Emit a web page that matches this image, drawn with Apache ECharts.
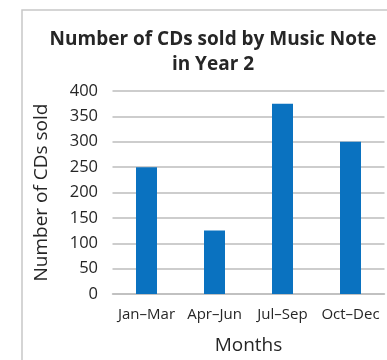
<!DOCTYPE html>
<html>
<head>
<meta charset="utf-8">
<script src="https://cdn.jsdelivr.net/npm/echarts@6/dist/echarts.min.js"></script>
<style>
  html, body { margin: 0; padding: 0; background: #ffffff; }
  #chart { width: 387px; height: 360px; }
</style>
</head>
<body>
<div id="chart"></div>
<script>
// Quarterly CD sales, year 2
const quarters = ['Jan–Mar', 'Apr–Jun', 'Jul–Sep', 'Oct–Dec'];
const cdsSold = [250, 125, 375, 300];
const yTicks = [0, 50, 100, 150, 200, 250, 300, 350, 400];

const font = 'Open Sans';
const textColor = '#262626';

const chart = echarts.init(document.getElementById('chart'), null, { renderer: 'canvas' });
chart.setOption({
  animation: false,
  backgroundColor: '#ffffff',
  graphic: [{
    type: 'rect',
    shape: { x: 22, y: 10, width: 420, height: 400 },
    style: { fill: 'none', stroke: '#c8c8c8', lineWidth: 1.5 },
    silent: true,
    z: -1
  }],
  title: {
    text: 'Number of CDs sold by Music Note\nin Year 2',
    left: 208,
    top: 22,
    textAlign: 'center',
    textStyle: { fontFamily: font, fontWeight: 'bold', fontSize: 19, color: textColor, lineHeight: 25 }
  },
  grid: { left: 112.5, right: 2.5, top: 91, bottom: 63.5 },
  xAxis: {
    type: 'category',
    data: quarters,
    name: 'Months',
    nameLocation: 'middle',
    nameGap: 42,
    nameTextStyle: { fontFamily: font, fontSize: 19, color: textColor },
    axisLine: { lineStyle: { color: '#bdbdbd', width: 1.5 } },
    axisTick: { show: false },
    axisLabel: { fontFamily: font, fontSize: 15, color: textColor, margin: 13, interval: 0 }
  },
  yAxis: {
    type: 'value',
    min: yTicks[0],
    max: yTicks[yTicks.length - 1],
    interval: yTicks[1] - yTicks[0],
    name: 'Number of CDs sold',
    nameLocation: 'middle',
    nameGap: 61,
    nameTextStyle: { fontFamily: font, fontSize: 19, color: textColor },
    axisLine: { show: false },
    axisTick: { show: false },
    axisLabel: { fontFamily: font, fontSize: 16.5, color: textColor, margin: 14.5 },
    splitLine: { lineStyle: { color: '#bdbdbd', width: 1.5 } }
  },
  series: [{
    type: 'bar',
    data: cdsSold,
    barWidth: 21,
    itemStyle: { color: '#0a72c0' }
  }]
});
</script>
</body>
</html>
